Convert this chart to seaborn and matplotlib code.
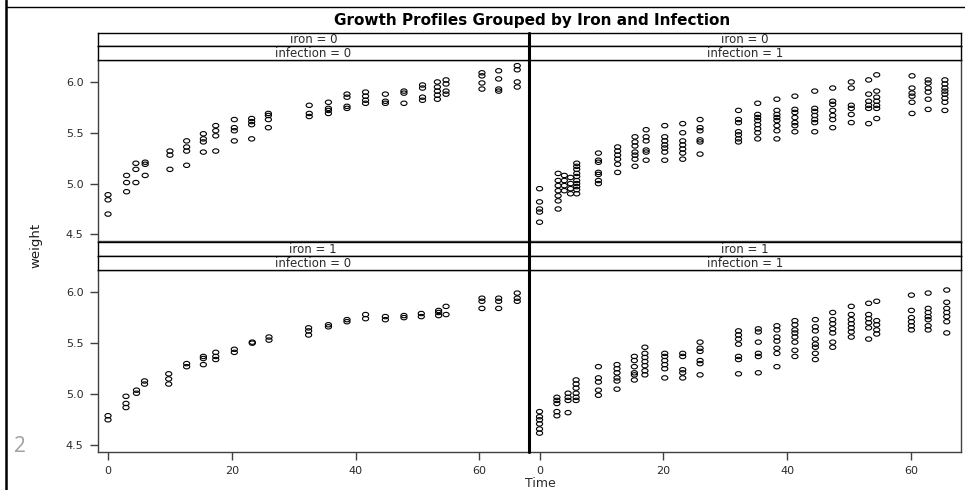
import numpy as np
import pandas as pd
import matplotlib
matplotlib.use("Agg")
import matplotlib.pyplot as plt
from matplotlib.markers import MarkerStyle
from matplotlib.transforms import Affine2D
from matplotlib.lines import Line2D
import seaborn as sns

sns.set_theme(style="white")
plt.rcParams['font.family'] = ['DejaVu Sans']

# ---------------- data ----------------
# panel iron=0, infection=0
t_00 = [0, 3, 4.5, 6, 10, 12.7, 15.4, 17.4, 20.4, 23.2, 25.9, 32.5, 35.6, 38.6, 41.6, 44.8, 47.8, 50.8, 53.2, 54.6, 60.4, 63.1, 66.1]
w_00 = [[4.89, 4.84, 4.70], [5.08, 5.01, 4.92], [5.20, 5.14, 5.01], [5.21, 5.19, 5.08],
        [5.32, 5.28, 5.14], [5.42, 5.36, 5.32, 5.18], [5.49, 5.44, 5.41, 5.31], [5.57, 5.52, 5.47, 5.32],
        [5.63, 5.55, 5.52, 5.42], [5.64, 5.61, 5.58, 5.44], [5.69, 5.67, 5.63, 5.55], [5.77, 5.69, 5.66],
        [5.80, 5.74, 5.72, 5.69], [5.88, 5.85, 5.76, 5.74], [5.90, 5.86, 5.82, 5.79], [5.88, 5.81, 5.79],
        [5.91, 5.89, 5.79], [5.97, 5.94, 5.85, 5.82], [6.00, 5.95, 5.91, 5.87, 5.83], [6.02, 5.98, 5.91, 5.88],
        [6.09, 6.06, 5.99, 5.93], [6.11, 6.03, 5.93, 5.91], [6.16, 6.12, 6.00, 5.95]]

# panel iron=0, infection=1
t_01 = [0, 3, 4, 5, 6, 9.5, 12.6, 15.4, 17.2, 20.2, 23.1, 25.9, 32.1, 35.2, 38.3, 41.2, 44.4, 47.3, 50.3, 53.1, 54.4, 60.1, 62.7, 65.4]
w_01 = [[4.95, 4.82, 4.75, 4.72, 4.62], [5.10, 5.03, 4.98, 4.93, 4.88, 4.83, 4.75],
        [5.08, 5.03, 4.98, 4.93], [5.06, 5.00, 4.95, 4.90],
        [5.20, 5.17, 5.14, 5.10, 5.07, 5.03, 5.00, 4.97, 4.94, 4.90],
        [5.30, 5.23, 5.21, 5.11, 5.09, 5.03, 5.00], [5.36, 5.32, 5.28, 5.24, 5.19, 5.11],
        [5.46, 5.41, 5.37, 5.31, 5.28, 5.24, 5.17], [5.53, 5.46, 5.42, 5.33, 5.31, 5.23],
        [5.57, 5.46, 5.42, 5.38, 5.35, 5.31, 5.23], [5.59, 5.50, 5.42, 5.38, 5.34, 5.30, 5.24],
        [5.63, 5.55, 5.52, 5.43, 5.41, 5.29], [5.72, 5.63, 5.60, 5.51, 5.48, 5.44, 5.41],
        [5.79, 5.68, 5.65, 5.62, 5.58, 5.54, 5.50, 5.44], [5.83, 5.72, 5.68, 5.65, 5.62, 5.57, 5.52, 5.44],
        [5.86, 5.73, 5.70, 5.65, 5.60, 5.57, 5.51], [5.91, 5.74, 5.71, 5.67, 5.63, 5.60, 5.51],
        [5.94, 5.81, 5.78, 5.72, 5.67, 5.63, 5.55], [6.00, 5.94, 5.77, 5.74, 5.68, 5.60],
        [6.02, 5.88, 5.81, 5.77, 5.74, 5.59], [6.07, 5.91, 5.85, 5.81, 5.77, 5.74, 5.64],
        [6.06, 5.94, 5.89, 5.86, 5.80, 5.69], [6.02, 5.99, 5.94, 5.90, 5.83, 5.73],
        [6.02, 5.98, 5.94, 5.91, 5.88, 5.84, 5.80, 5.72]]

# panel iron=1, infection=0
t_10 = [0, 2.9, 4.6, 5.9, 9.8, 12.7, 15.4, 17.4, 20.4, 23.3, 26, 32.4, 35.6, 38.6, 41.6, 44.8, 47.8, 50.6, 53.4, 54.6, 60.4, 63.1, 66.1]
w_10 = [[4.79, 4.75], [4.98, 4.91, 4.87], [5.04, 5.01], [5.13, 5.10], [5.20, 5.15, 5.10],
        [5.30, 5.27], [5.37, 5.35, 5.29], [5.41, 5.37, 5.34], [5.44, 5.41], [5.51, 5.50], [5.56, 5.53],
        [5.65, 5.62, 5.58], [5.68, 5.66], [5.73, 5.71], [5.78, 5.74], [5.76, 5.73], [5.77, 5.75],
        [5.79, 5.76], [5.82, 5.80, 5.77], [5.86, 5.78], [5.94, 5.91, 5.84], [5.94, 5.91, 5.84],
        [5.99, 5.94, 5.91]]

# panel iron=1, infection=1
t_11 = [0, 2.8, 4.6, 5.9, 9.5, 12.5, 15.3, 17, 20.2, 23.1, 25.9, 32.1, 35.3, 38.3, 41.2, 44.5, 47.3, 50.3, 53.1, 54.4, 60, 62.7, 65.7]
w_11 = [[4.83, 4.78, 4.75, 4.71, 4.66, 4.62], [4.97, 4.94, 4.91, 4.83, 4.79], [5.01, 4.97, 4.94, 4.82],
        [5.14, 5.10, 5.06, 5.01, 4.97, 4.94], [5.27, 5.16, 5.12, 5.04, 4.99],
        [5.29, 5.25, 5.21, 5.16, 5.13, 5.05], [5.37, 5.33, 5.27, 5.21, 5.19, 5.14],
        [5.46, 5.40, 5.36, 5.32, 5.28, 5.23, 5.19], [5.40, 5.37, 5.33, 5.29, 5.25, 5.16],
        [5.40, 5.37, 5.24, 5.21, 5.16], [5.51, 5.45, 5.42, 5.33, 5.30, 5.19],
        [5.62, 5.58, 5.54, 5.49, 5.37, 5.34, 5.20], [5.64, 5.61, 5.51, 5.40, 5.37, 5.21],
        [5.67, 5.63, 5.56, 5.52, 5.45, 5.40, 5.27], [5.72, 5.68, 5.63, 5.60, 5.56, 5.51, 5.43, 5.37],
        [5.73, 5.66, 5.62, 5.54, 5.49, 5.46, 5.40, 5.34], [5.80, 5.73, 5.69, 5.64, 5.60, 5.51, 5.46],
        [5.86, 5.78, 5.73, 5.69, 5.65, 5.61, 5.56], [5.89, 5.78, 5.74, 5.70, 5.65, 5.54],
        [5.91, 5.72, 5.68, 5.63, 5.59], [5.97, 5.82, 5.75, 5.71, 5.67, 5.63],
        [5.99, 5.84, 5.80, 5.76, 5.73, 5.67, 5.63], [6.02, 5.90, 5.84, 5.80, 5.76, 5.71, 5.60]]

x_ticks = [0, 20, 40, 60]
y_ticks = [4.5, 5.0, 5.5, 6.0]
y_ticklabels = ["4.5", "5.0", "5.5", "6.0"]

title = "Growth Profiles Grouped by Iron and Infection"
x_label = "Time"
y_label = "weight"

panels = {(0, 0): (t_00, w_00), (0, 1): (t_01, w_01), (1, 0): (t_10, w_10), (1, 1): (t_11, w_11)}

rows = []
for (iron, inf), (ts, ws) in panels.items():
    for t, wl in zip(ts, ws):
        for w in wl:
            rows.append({"Time": t, "weight": w, "iron": iron, "infection": inf})
df = pd.DataFrame(rows)

# ---------------- figure ----------------
W, H = 965, 490
fig = plt.figure(figsize=(W / 100, H / 100), dpi=100)
fig.patch.set_facecolor("white")

def fa(x0, y0, x1, y1):
    return [x0 / W, 1 - y1 / H, (x1 - x0) / W, (y1 - y0) / H]

col_x = [(97.5, 529.0), (529.0, 961.0)]
row_y = [(33, 46, 60, 241), (242, 256, 270, 452)]

ell = MarkerStyle("o", transform=Affine2D().scale(1.4, 1.0))
frame_c = "#404040"
txt_c = "#2a2a2a"

for iron in (0, 1):
    s0, s1, p0, p1 = row_y[iron]
    for inf in (0, 1):
        x0, x1 = col_x[inf]
        ax = fig.add_axes(fa(x0, p0, x1, p1))
        sub = df[(df.iron == iron) & (df.infection == inf)]
        sns.scatterplot(data=sub, x="Time", y="weight", ax=ax, marker=ell, s=10,
                        facecolors="none", edgecolor="black", linewidth=0.8, legend=False)
        ax.set_xlim(-1.7, 68.0)
        ax.set_ylim(4.435, 6.216)
        ax.set_xlabel("")
        ax.set_ylabel("")
        for sp in ax.spines.values():
            sp.set_color(frame_c)
            sp.set_linewidth(1.0)
        ax.set_facecolor("white")
        ax.tick_params(axis="both", which="both", direction="out", length=6, width=1,
                       color=frame_c, labelsize=8, labelcolor=txt_c, pad=4)
        if inf == 0:
            ax.set_yticks(y_ticks)
            ax.set_yticklabels(y_ticklabels)
            ax.tick_params(axis="y", left=True)
        else:
            ax.set_yticks([])
        if iron == 1:
            ax.set_xticks(x_ticks)
            ax.set_xticklabels([str(v) for v in x_ticks])
            ax.tick_params(axis="x", bottom=True)
        else:
            ax.set_xticks([])
        # strips
        for (a, b, txt) in ((s0, s1, f"iron = {iron}"), (s1, p0, f"infection = {inf}")):
            sax = fig.add_axes(fa(x0, a, x1, b))
            sax.set_xticks([])
            sax.set_yticks([])
            sax.set_facecolor("white")
            for sp in sax.spines.values():
                sp.set_color("black")
                sp.set_linewidth(1.0)
            sax.text(0.5, 0.47, txt, ha="center", va="center", fontsize=8.5,
                     color=txt_c, transform=sax.transAxes)

# thick central divider
fig.add_artist(Line2D([529 / W, 529 / W], [1 - 33 / H, 1 - 452 / H], color="black",
                      linewidth=2.2, transform=fig.transFigure))

# titles and labels
fig.text(532 / W, 1 - 20 / H, title, ha="center", va="center", fontsize=11,
         fontweight="bold", color="black")
fig.text(540 / W, 1 - 483 / H, x_label, ha="center", va="center", fontsize=9, color=txt_c)
fig.text(36 / W, 1 - 245 / H, y_label, ha="center", va="center", fontsize=9.5,
         rotation=90, color="#1a1a1a", family=["Liberation Sans Narrow", "DejaVu Sans"])

# slide frame remnants
fig.add_artist(Line2D([6 / W, 6 / W], [0, 1], color="black", linewidth=1.8, transform=fig.transFigure))
fig.add_artist(Line2D([6 / W, 1], [1 - 7 / H, 1 - 7 / H], color="black", linewidth=1.0,
                      transform=fig.transFigure))
fig.text(20 / W, 1 - 446 / H, "2", ha="center", va="center", fontsize=15, color="#a0a0a0",
         family=["Open Sans", "DejaVu Sans"], fontweight="normal")

fig.savefig("out.png", dpi=100, facecolor="white")
